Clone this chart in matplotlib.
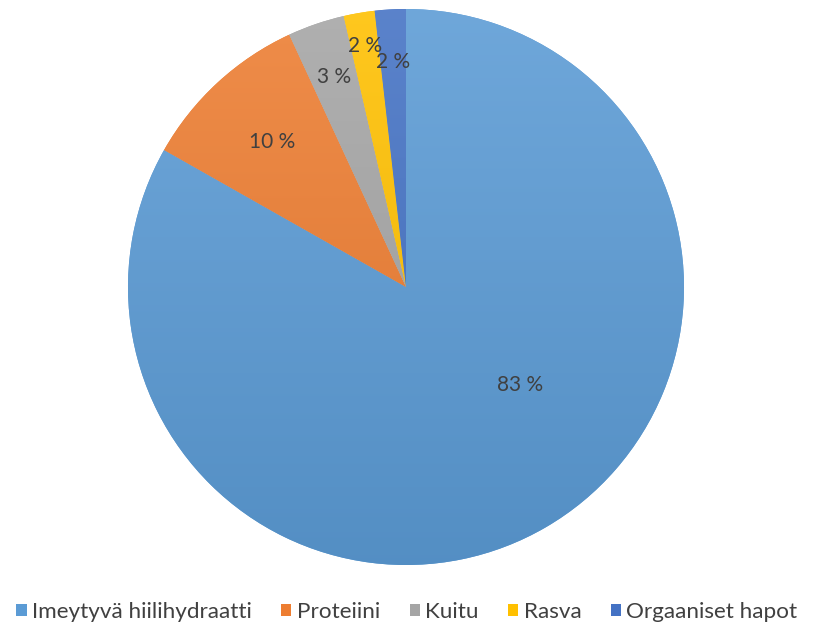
import numpy as np
import matplotlib.pyplot as plt
import matplotlib.colors as mcolors
from matplotlib.patches import Patch

# data
categories = ["Imeytyvä hiilihydraatti", "Proteiini", "Kuitu", "Rasva", "Orgaaniset hapot"]
values = [83.2, 9.9, 3.3, 1.8, 1.8]
colors = ["#5B9BD5", "#ED7D31", "#A5A5A5", "#FFC000", "#4472C4"]
# label placement: (angle shift in deg from slice middle, radius fraction)
label_pos = [(19, 0.54), (0, 0.71), (0, 0.80), (0, 0.88), (0, 0.81)]

W, H = 814, 628
cx, cy, R = 406, 287, 278

plt.rcParams['font.family'] = ['Lato', 'DejaVu Sans']

fig = plt.figure(figsize=(W / 100, H / 100), dpi=100)
ax = fig.add_axes([0, 0, 1, 1])

wedges, _ = ax.pie(values, colors=colors, startangle=90, counterclock=False,
                   radius=1, center=(0, 0), wedgeprops=dict(linewidth=0))

# soft vertical gradient like the office chart style
grad = np.linspace(0, 1, 256).reshape(-1, 1)
for w, c in zip(wedges, colors):
    rgb = np.array(mcolors.to_rgb(c))
    top = rgb + (1 - rgb) * 0.12
    bot = rgb * 0.92
    img = top[None, None, :] * (1 - grad[..., None]) + bot[None, None, :] * grad[..., None]
    im = ax.imshow(img, extent=(-1, 1, -1, 1), origin='upper', aspect='auto', zorder=w.get_zorder() + 0.1)
    im.set_clip_path(w)

for w, v, (da, rf) in zip(wedges, values, label_pos):
    mid = np.deg2rad((w.theta1 + w.theta2) / 2 + da)
    ax.text(rf * np.cos(mid), rf * np.sin(mid), f"{round(v):.0f} %",
            ha='center', va='center', fontsize=15, color='#404040', zorder=10)

ax.set_aspect('equal', adjustable='box')
ax.set_xlim(-cx / R, (W - cx) / R)
ax.set_ylim(-(H - cy) / R, cy / R)
ax.axis('off')

handles = [Patch(facecolor=c, edgecolor='none') for c in colors]
fig.legend(handles, categories, loc='center', bbox_to_anchor=(0.5, 1 - 612 / H),
           ncol=5, frameon=False, fontsize=16.2, handlelength=0.45, handleheight=0.45,
           handletextpad=0.25, columnspacing=1.3, labelcolor='#404040')

fig.savefig("out.png", dpi=100, facecolor='white')
